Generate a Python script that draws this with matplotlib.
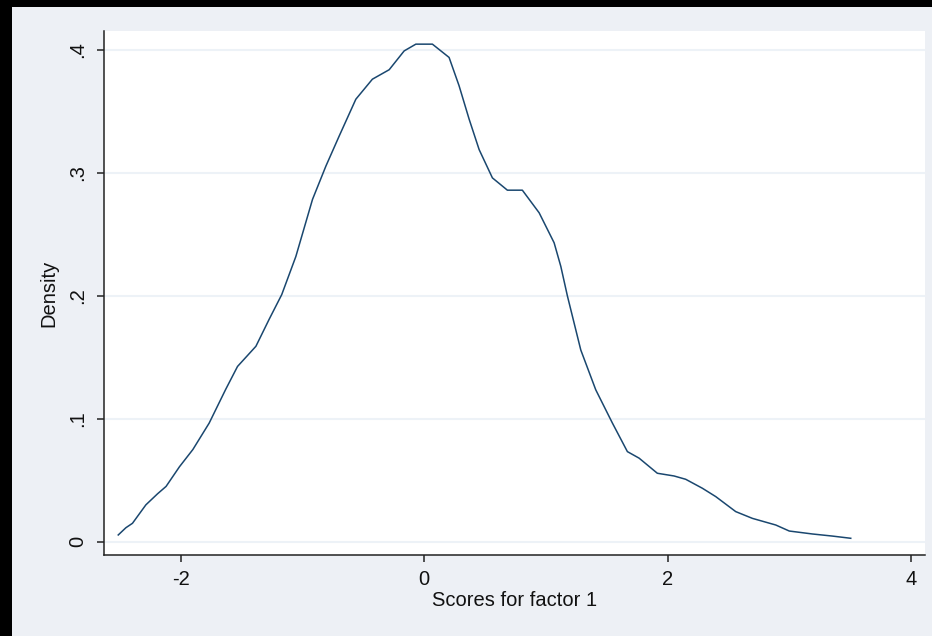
import matplotlib.pyplot as plt
from matplotlib.patches import Rectangle

# kernel density of factor scores
score_x = [-2.513, -2.45, -2.396, -2.286, -2.19, -2.12, -2.01, -1.90, -1.766, -1.63,
           -1.533, -1.382, -1.273, -1.17, -1.054, -0.917, -0.807, -0.698, -0.561, -0.425,
           -0.287, -0.164, -0.068, 0.068, 0.205, 0.287, 0.37, 0.452, 0.561, 0.684,
           0.807, 0.945, 1.068, 1.123, 1.177, 1.287, 1.41, 1.547, 1.67, 1.766,
           1.916, 2.053, 2.149, 2.286, 2.396, 2.56, 2.697, 2.889, 3.0, 3.19,
           3.354, 3.505]
density_y = [0.0055, 0.0114, 0.015, 0.030, 0.039, 0.045, 0.061, 0.075, 0.0965, 0.124,
             0.1426, 0.159, 0.181, 0.201, 0.232, 0.2785, 0.3056, 0.330, 0.360, 0.3763,
             0.384, 0.3993, 0.4048, 0.4048, 0.394, 0.371, 0.3437, 0.319, 0.296, 0.286,
             0.286, 0.2676, 0.2432, 0.224, 0.200, 0.156, 0.1236, 0.0965, 0.0733, 0.068,
             0.0557, 0.0535, 0.0508, 0.0435, 0.0367, 0.0245, 0.019, 0.0136, 0.0087, 0.0063,
             0.0046, 0.0028]

xticks = [-2, 0, 2, 4]
xtick_labels = ['-2', '0', '2', '4']
yticks = [0, 0.1, 0.2, 0.3, 0.4]
ytick_labels = ['0', '.1', '.2', '.3', '.4']

plt.rcParams['font.family'] = ['Liberation Sans', 'DejaVu Sans']

W, H = 932, 636
bg = '#edf0f5'
fig = plt.figure(figsize=(W / 100, H / 100), dpi=100, facecolor='black')
# light panel, leaving black strips at top and left
panel = Rectangle((12 / W, 0), 1 - 12 / W, (H - 7) / H,
                  transform=fig.transFigure, facecolor=bg,
                  edgecolor='none', zorder=-10)
fig.add_artist(panel)

ax = fig.add_axes([104 / W, (H - 555) / H, (925 - 104) / W, (555 - 31) / H])
ax.set_zorder(1)
ax.set_facecolor('white')
ax.plot(score_x, density_y, color='#1a476f', lw=1.1)

ax.set_xlim(-2.63, 4.115)
ax.set_ylim(-0.0108, 0.4155)
ax.set_xticks(xticks)
ax.set_xticklabels(xtick_labels)
ax.set_yticks(yticks)
ax.set_yticklabels(ytick_labels, rotation=90, va='center')
ax.grid(axis='y', color='#edf2f7', lw=1.5)
ax.set_axisbelow(True)

for s in ['top', 'right']:
    ax.spines[s].set_visible(False)
for s in ['left', 'bottom']:
    ax.spines[s].set_linewidth(1.1)
    ax.spines[s].set_color('#222222')
ax.tick_params(direction='out', length=5, width=1.1, color='#222222',
               labelsize=14.5, labelcolor='#111111')
ax.tick_params(axis='x', pad=6)
ax.tick_params(axis='y', pad=7)

ax.set_xlabel('Scores for factor 1', fontsize=14.5, color='#111111')
ax.set_ylabel('Density', fontsize=14.5, color='#111111')
ax.xaxis.set_label_coords(0.5, -0.068)
ax.yaxis.set_label_coords(-0.055, 0.5)

fig.savefig('out.png', dpi=100, facecolor=fig.get_facecolor())
